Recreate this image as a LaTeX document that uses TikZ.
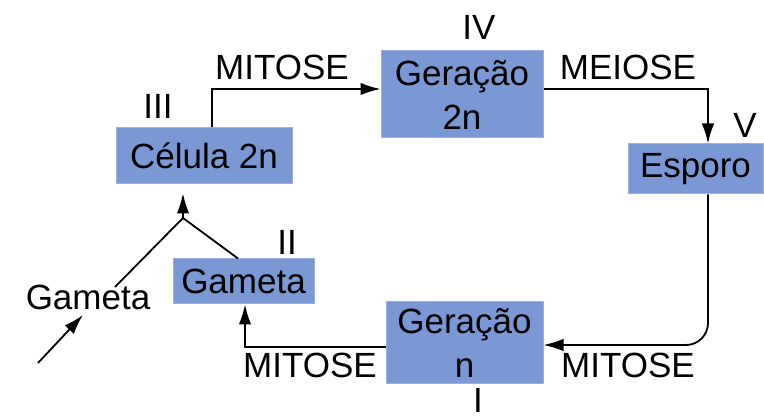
\documentclass[tikz,border=0pt]{standalone}
\usepackage{fontspec}
\setmainfont{Liberation Sans}
\usetikzlibrary{arrows.meta}
\definecolor{boxblue}{RGB}{122,152,212}
\begin{document}
\begin{tikzpicture}[x=1pt,y=-1pt,
  every node/.style={font=\fontsize{35}{44}\selectfont, inner sep=0pt},
  box/.style={fill=boxblue, draw=boxblue!75!white, line width=1pt, align=center},
  lbl/.style={},
  conn/.style={line width=1.8pt, draw=black},
  arr/.style={conn, -{Latex[length=20pt,width=12.5pt]}}]
\useasboundingbox (0,0) rectangle (764,419);
\fill[white] (0,0) rectangle (764,419);
% boxes
\node[box, minimum width=176pt, minimum height=56pt] (cel) at (204,156) {Célula 2n};
\node[box, minimum width=162pt, minimum height=87pt] (g2) at (462,94.5) {Geração\\2n};
\node[box, minimum width=135pt, minimum height=50pt] (esp) at (695.5,169) {Esporo};
\node[box, minimum width=157pt, minimum height=82pt] (gn) at (464.5,343) {Geração\\n};
\node[box, minimum width=141pt, minimum height=45pt] (gam) at (243.5,281.5) {Gameta};
% labels
\node[lbl] (l3) at (158,106) {III};
\node[lbl] (l4) at (479,27) {IV};
\node[lbl] (l5) at (745,125) {V};
\node[lbl] (l2) at (287,242) {II};
\node[lbl, anchor=base] (l1) at (478,413) {I};
\node[lbl] (m1) at (282,67) {MITOSE};
\node[lbl] (me) at (628,67) {MEIOSE};
\node[lbl] (m2) at (310,365) {MITOSE};
\node[lbl] (m3) at (628,365) {MITOSE};
\node[lbl] (gt) at (88,297) {Gameta};
% coordinates
\coordinate (J) at (183,218);
\coordinate (gtop) at (115,287);
\coordinate (a1) at (38,363);
\coordinate (a2) at (83,315);
% connectors
\draw[arr] ([xshift=8pt]cel.north) |- ([yshift=5.5pt]g2.west);
\draw[arr] ([yshift=5.5pt]g2.east) -| ([xshift=12.5pt]esp.north);
\draw[arr, rounded corners=22pt] ([xshift=12.5pt]esp.south) |- ([yshift=-2pt]gn.east);
\draw[arr] ([yshift=-4pt]gn.west) -| ([xshift=1.5pt]gam.south);
\draw[conn] ([xshift=-5.5pt]gam.north) -- (J);
\draw[conn] (gtop) -- (J);
\draw[arr, shorten >=9pt] (J) -- (J |- cel.south);
\draw[arr] (a1) -- (a2);
\end{tikzpicture}
\end{document}
